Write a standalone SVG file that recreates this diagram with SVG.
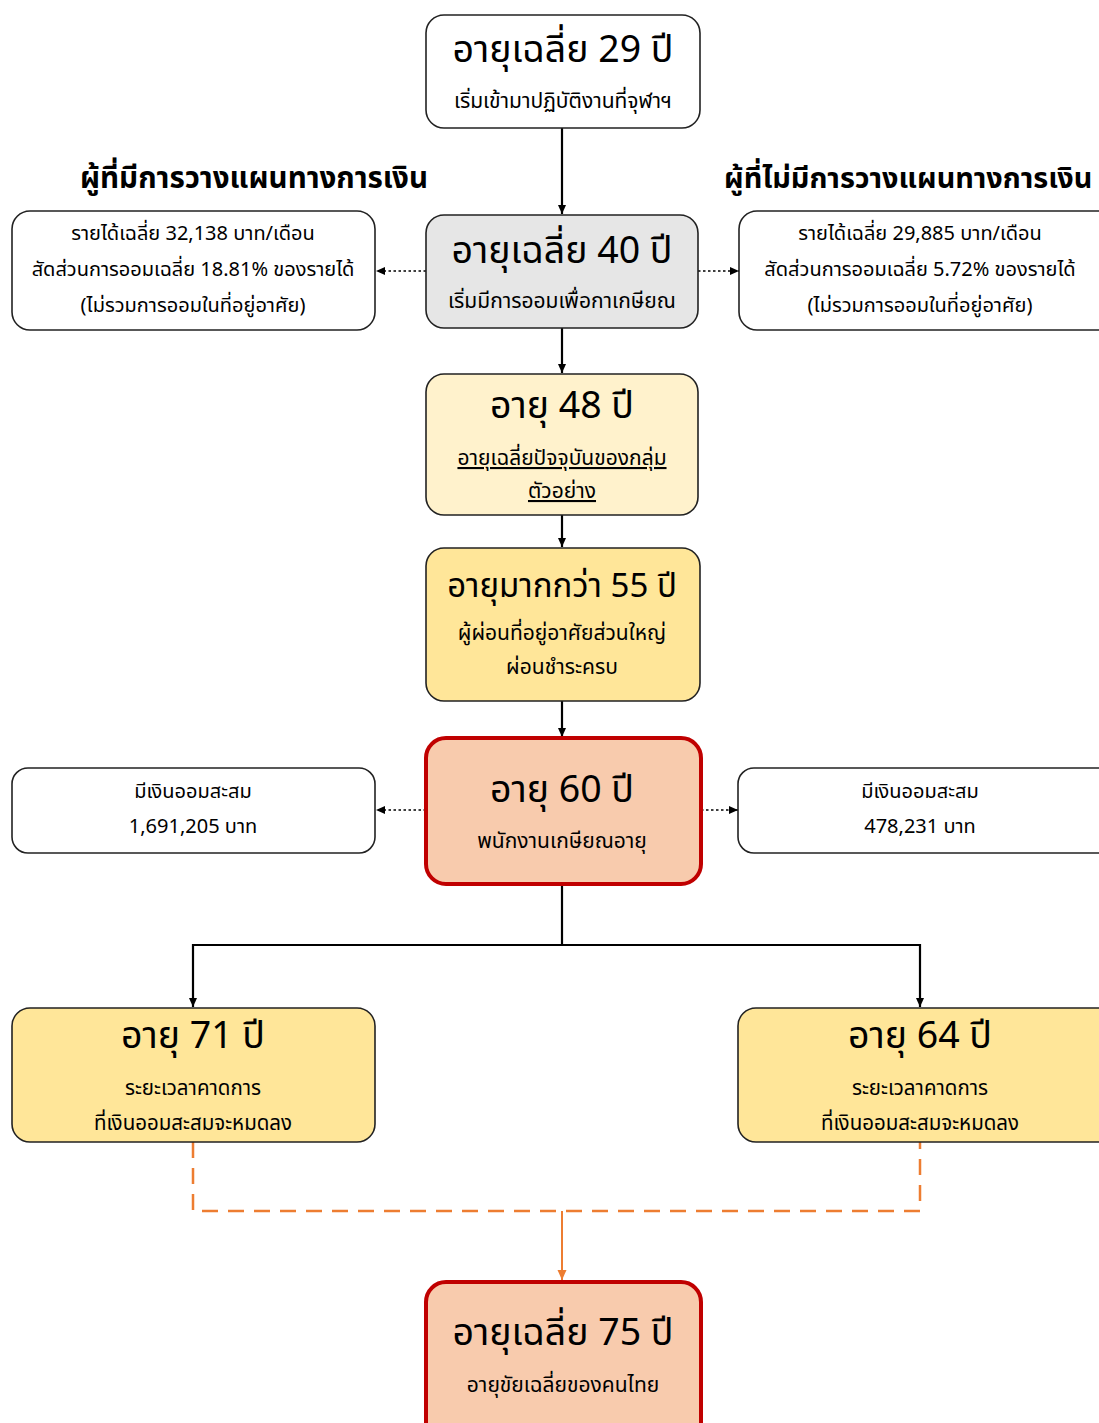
<svg xmlns="http://www.w3.org/2000/svg" width="1099" height="1423" viewBox="0 0 1099 1423">
  <defs>
    <marker id="arr" markerWidth="10" markerHeight="10" refX="9" refY="5" orient="auto" markerUnits="userSpaceOnUse">
      <path d="M0,1 L9,5 L0,9 Z" fill="#000"/>
    </marker>
    <marker id="arrO" markerWidth="12" markerHeight="12" refX="10" refY="5.5" orient="auto" markerUnits="userSpaceOnUse">
      <path d="M0,1 L10,5.5 L0,10 Z" fill="#ed7d31"/>
    </marker>
    <style>
      text { font-family: "Noto Sans Thai", "Tahoma", "Leelawadee UI", "DejaVu Sans", "Noto Sans", sans-serif; fill: #000; text-anchor: middle; }
      .box { stroke: #222; stroke-width: 1.6; }
      .red { stroke: #c00000; stroke-width: 4; }
      .white { fill: #fff; }
      .grey { fill: #e6e6e6; }
      .cream { fill: #fff2cc; }
      .gold { fill: #ffe699; }
      .peach { fill: #f8cbad; }
      .t1 { font-size: 37.5px; }
      .t2 { font-size: 21px; }
      .t3 { font-size: 20px; }
      .head { font-size: 29.5px; font-weight: bold; }
      .solid { stroke: #000; stroke-width: 2.2; fill: none; }
      .dot { stroke: #000; stroke-width: 1.3; stroke-dasharray: 2.5 2.5; fill: none; }
      .odash { stroke: #ed7d31; stroke-width: 2.5; stroke-dasharray: 16 10; fill: none; }
      .oline { stroke: #ed7d31; stroke-width: 2; fill: none; }
    </style>
  </defs>

  <!-- column headings -->
  <text class="head" x="254" y="188">ผู้ที่มีการวางแผนทางการเงิน</text>
  <text class="head" x="724" y="188" style="text-anchor:start;font-size:28.8px">ผู้ที่ไม่มีการวางแผนทางการเงิน</text>

  <!-- connectors -->
  <g id="connectors">
    <line class="solid" x1="562" y1="128" x2="562" y2="214" marker-end="url(#arr)"/>
    <line class="dot" x1="426" y1="271" x2="376" y2="271" marker-end="url(#arr)"/>
    <line class="dot" x1="698" y1="271" x2="739" y2="271" marker-end="url(#arr)"/>
    <line class="solid" x1="562" y1="328" x2="562" y2="373" marker-end="url(#arr)"/>
    <line class="solid" x1="562" y1="515" x2="562" y2="547" marker-end="url(#arr)"/>
    <line class="solid" x1="562" y1="701" x2="562" y2="737" marker-end="url(#arr)"/>
    <line class="dot" x1="426" y1="810" x2="376" y2="810" marker-end="url(#arr)"/>
    <line class="dot" x1="701" y1="810" x2="738" y2="810" marker-end="url(#arr)"/>
    <path class="solid" d="M562,884 V945"/>
    <path class="solid" d="M562,945 H193 V1007" marker-end="url(#arr)"/>
    <path class="solid" d="M562,945 H920 V1007" marker-end="url(#arr)"/>
    <path class="odash" d="M193,1142 V1211 H920 V1142"/>
    <line class="oline" x1="562" y1="1211" x2="562" y2="1280" marker-end="url(#arrO)"/>
  </g>

  <g id="n29">
    <rect class="box white" x="426" y="15" width="274" height="113" rx="18"/>
    <text class="t1" x="563" y="62">อายุเฉลี่ย 29 ปี</text>
    <text class="t2" x="563" y="108">เริ่มเข้ามาปฏิบัติงานที่จุฬาฯ</text>
  </g>

  <g id="n40">
    <rect class="box grey" x="426" y="215" width="272" height="113" rx="18"/>
    <text class="t1" x="562" y="263">อายุเฉลี่ย 40 ปี</text>
    <text class="t2" x="562" y="308">เริ่มมีการออมเพื่อกาเกษียณ</text>
  </g>

  <g id="planned-income">
    <rect class="box white" x="12" y="211" width="363" height="119" rx="18"/>
    <text class="t3" x="193" y="240">รายได้เฉลี่ย 32,138 บาท/เดือน</text>
    <text class="t3" x="193" y="276">สัดส่วนการออมเฉลี่ย 18.81% ของรายได้</text>
    <text class="t3" x="193" y="312">(ไม่รวมการออมในที่อยู่อาศัย)</text>
  </g>

  <g id="unplanned-income">
    <rect class="box white" x="739" y="211" width="380" height="119" rx="18"/>
    <text class="t3" x="920" y="240">รายได้เฉลี่ย 29,885 บาท/เดือน</text>
    <text class="t3" x="920" y="276">สัดส่วนการออมเฉลี่ย 5.72% ของรายได้</text>
    <text class="t3" x="920" y="312">(ไม่รวมการออมในที่อยู่อาศัย)</text>
  </g>

  <g id="n48">
    <rect class="box cream" x="426" y="374" width="272" height="141" rx="18"/>
    <text class="t1" x="562" y="418">อายุ 48 ปี</text>
    <text class="t2" x="562" y="465" text-decoration="underline">อายุเฉลี่ยปัจจุบันของกลุ่ม</text>
    <text class="t2" x="562" y="498" text-decoration="underline">ตัวอย่าง</text>
  </g>

  <g id="n55">
    <rect class="box gold" x="426" y="548" width="274" height="153" rx="18"/>
    <text class="t1" x="562" y="597" style="font-size:33px">อายุมากกว่า 55 ปี</text>
    <text class="t2" x="562" y="640">ผู้ผ่อนที่อยู่อาศัยส่วนใหญ่</text>
    <text class="t2" x="562" y="674">ผ่อนชำระครบ</text>
  </g>

  <g id="n60">
    <rect class="red peach" x="426" y="738" width="275" height="146" rx="20"/>
    <text class="t1" x="562" y="802">อายุ 60 ปี</text>
    <text class="t2" x="562" y="848">พนักงานเกษียณอายุ</text>
  </g>

  <g id="planned-savings">
    <rect class="box white" x="12" y="768" width="363" height="85" rx="16"/>
    <text class="t3" x="193" y="798">มีเงินออมสะสม</text>
    <text class="t3" x="193" y="833">1,691,205 บาท</text>
  </g>

  <g id="unplanned-savings">
    <rect class="box white" x="738" y="768" width="380" height="85" rx="16"/>
    <text class="t3" x="920" y="798">มีเงินออมสะสม</text>
    <text class="t3" x="920" y="833">478,231 บาท</text>
  </g>

  <g id="n71">
    <rect class="box gold" x="12" y="1008" width="363" height="134" rx="18"/>
    <text class="t1" x="193" y="1048">อายุ 71 ปี</text>
    <text class="t3" x="193" y="1095" style="font-size:20.5px">ระยะเวลาคาดการ</text>
    <text class="t3" x="193" y="1130" style="font-size:20.5px">ที่เงินออมสะสมจะหมดลง</text>
  </g>

  <g id="n64">
    <rect class="box gold" x="738" y="1008" width="380" height="134" rx="18"/>
    <text class="t1" x="920" y="1048">อายุ 64 ปี</text>
    <text class="t3" x="920" y="1095" style="font-size:20.5px">ระยะเวลาคาดการ</text>
    <text class="t3" x="920" y="1130" style="font-size:20.5px">ที่เงินออมสะสมจะหมดลง</text>
  </g>

  <g id="n75">
    <rect class="red peach" x="426" y="1282" width="275" height="160" rx="20"/>
    <text class="t1" x="563" y="1345">อายุเฉลี่ย 75 ปี</text>
    <text class="t2" x="563" y="1392">อายุขัยเฉลี่ยของคนไทย</text>
  </g>
</svg>
